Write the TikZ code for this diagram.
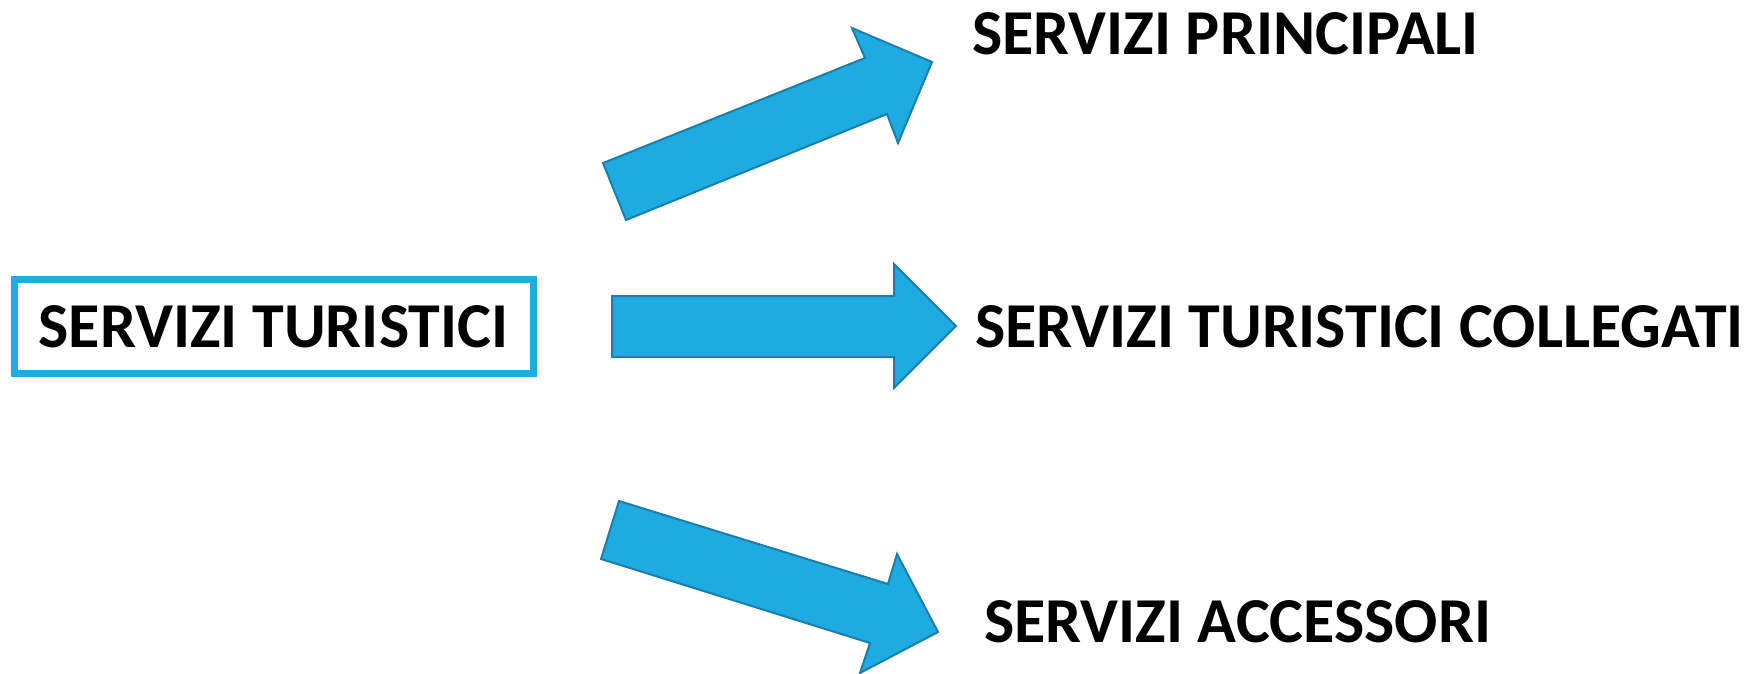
\documentclass[tikz,border=0pt]{standalone}
\usepackage{fontspec}
\setmainfont{Carlito}
\definecolor{arrowfill}{HTML}{1EABE2}
\definecolor{arrowline}{HTML}{1A7FAA}
\definecolor{boxblue}{HTML}{1EACE3}
\tikzset{
  blockarrow/.style={fill=arrowfill, draw=arrowline, line width=2pt, line join=miter},
  bigtext/.style={font=\fontsize{64}{72}\selectfont\bfseries, inner sep=0pt},
  label/.style={bigtext, anchor=base west},
}
\begin{document}
\begin{tikzpicture}[x=1pt,y=-1pt]
\useasboundingbox (0,0) rectangle (1750,674);
% source box
\node[draw=boxblue, line width=7pt, minimum width=519pt, minimum height=94pt, inner sep=0pt] (src) at (274,326.5) {};
\node[bigtext, anchor=base] (srct) at (273.5,347) {SERVIZI TURISTICI};
% arrows
\draw[blockarrow] (626,220) -- (603,163) -- (865,58) -- (852,28) -- (932,62) -- (898,143) -- (887,114) -- cycle;
\draw[blockarrow] (612,296) -- (894,296) -- (894,264) -- (956,326) -- (894,388) -- (894,357) -- (612,357) -- cycle;
\draw[blockarrow] (619,501) -- (888,584) -- (897,554) -- (938,632) -- (860,673) -- (870,643) -- (601,559) -- cycle;
% targets
\node[label] (t1) at (972,55) {SERVIZI PRINCIPALI};
\node[label] (t2) at (975,347) {SERVIZI TURISTICI COLLEGATI};
\node[label] (t3) at (984,642) {SERVIZI ACCESSORI};
\end{tikzpicture}
\end{document}
